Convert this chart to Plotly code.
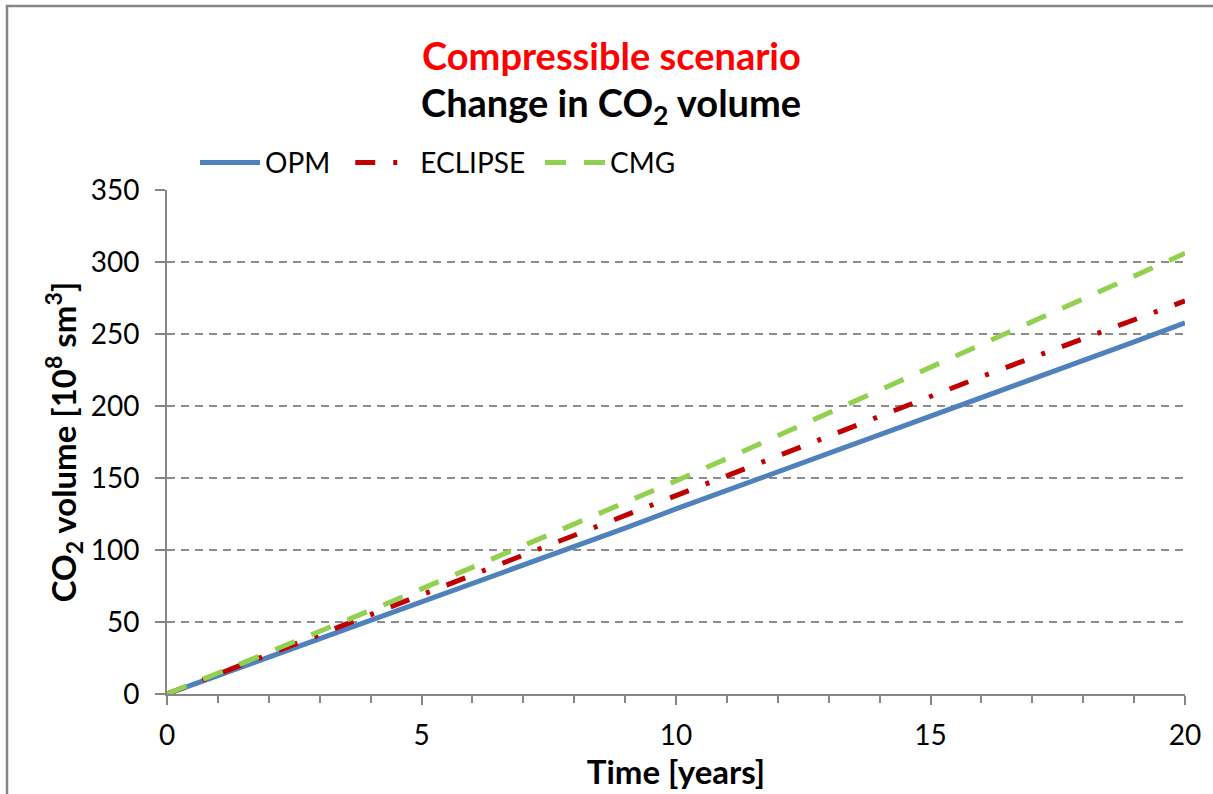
import plotly.graph_objects as go

# Time axis (years) and injected CO2 volume for each simulator [10^8 sm3]
years = list(range(0, 21))
opm = [0, 12.8, 25.6, 38.3, 50.8, 63.2, 76.0, 89.0, 102.0, 115.2, 128.5,
       141.4, 154.3, 167.0, 179.6, 192.2, 205.2, 218.2, 231.3, 244.5, 257.8]
eclipse = [0, 13.8, 27.6, 41.4, 55.4, 69.4, 83.2, 97.0, 110.8, 124.4, 138.0,
           151.8, 165.6, 179.4, 193.2, 207.0, 220.4, 233.6, 246.6, 259.8, 273.0]
cmg = [0, 14.4, 28.9, 43.5, 58.1, 73.0, 87.9, 102.9, 117.9, 132.9, 148.0,
       163.5, 179.2, 195.0, 211.0, 227.0, 242.8, 258.6, 274.4, 290.2, 306.0]

x_ticks = [0, 5, 10, 15, 20]
y_ticks = [0, 50, 100, 150, 200, 250, 300, 350]

FONT = "Lato"
AXIS_GREY = "#868686"

fig = go.Figure()
fig.add_trace(go.Scatter(x=years, y=opm, name="OPM", mode="lines",
                         line=dict(color="#4F81BD", width=5), legend="legend"))
fig.add_trace(go.Scatter(x=years, y=eclipse, name="ECLIPSE", mode="lines",
                         line=dict(color="#C00000", width=5,
                                   dash="20px,18px,4px,18px"), legend="legend2"))
fig.add_trace(go.Scatter(x=years, y=cmg, name="CMG", mode="lines",
                         line=dict(color="#92D050", width=5,
                                   dash="21px,18px"), legend="legend3"))


def legend_box(x):
    # one horizontal legend entry placed above the plot area
    return dict(orientation="h", x=x, y=1.054, xanchor="left", yanchor="middle",
                font=dict(size=28, family=FONT), bgcolor="rgba(0,0,0,0)",
                itemwidth=60)


fig.update_layout(
    width=1213, height=794,
    margin=dict(l=167, r=28, t=190, b=100),
    paper_bgcolor="white", plot_bgcolor="white",
    font=dict(family=FONT, color="black", size=28),
    showlegend=True,
    legend=legend_box(0.0275),
    legend2=legend_box(0.180),
    legend3=legend_box(0.3664),
    xaxis=dict(range=[0, 20], tickvals=x_ticks, ticks="outside", ticklen=9,
               tickwidth=2, tickcolor=AXIS_GREY, showline=True, linewidth=2,
               linecolor=AXIS_GREY, showgrid=False, zeroline=False,
               tickfont=dict(size=28), ticklabelstandoff=6,
               minor=dict(dtick=1, ticks="outside", ticklen=7, tickwidth=2,
                          tickcolor=AXIS_GREY, showgrid=False),
               title=dict(text="<b>Time [years]</b>", font=dict(size=33),
                          standoff=2)),
    yaxis=dict(range=[0, 350], tickvals=y_ticks, ticks="outside", ticklen=10,
               tickwidth=2, tickcolor=AXIS_GREY, showline=True, linewidth=2,
               linecolor=AXIS_GREY, showgrid=True, gridcolor="#8C8C8C",
               griddash="8px,6px", gridwidth=2, zeroline=False,
               tickfont=dict(size=28), ticklabelstandoff=10,
               title=dict(text="<b>CO<sub>2</sub> volume [10<sup>8</sup> sm<sup>3</sup>]</b>",
                          font=dict(size=33), standoff=4)),
)

# Two-line chart title
fig.add_annotation(text="<b>Compressible scenario</b>", xref="paper", yref="paper",
                   x=(611 - 167) / 1018, y=(694 - 55) / 504, showarrow=False,
                   xanchor="center", yanchor="middle",
                   font=dict(size=38, color="#FF0000", family=FONT))
fig.add_annotation(text="<b>Change in CO<sub>2</sub> volume</b>", xref="paper", yref="paper",
                   x=(611 - 167) / 1018, y=(694 - 105) / 504, showarrow=False,
                   xanchor="center", yanchor="middle",
                   font=dict(size=38, color="black", family=FONT))

# Chart-area frame
fig.add_shape(type="rect", xref="paper", yref="paper",
              x0=(7 - 167) / 1018, x1=(1230 - 167) / 1018,
              y0=(694 - 810) / 504, y1=(694 - 6) / 504,
              line=dict(color=AXIS_GREY, width=2.5), fillcolor="rgba(0,0,0,0)",
              layer="below")

fig.write_html("out.html")
